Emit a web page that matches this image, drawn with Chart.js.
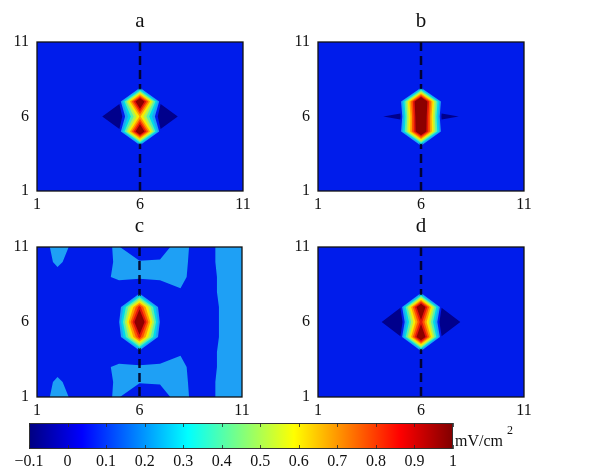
<!DOCTYPE html>
<html><head><meta charset="utf-8">
<script src="https://cdn.jsdelivr.net/npm/chart.js@4/dist/chart.umd.min.js"></script>
<style>
html,body{margin:0;padding:0;background:#fff;width:608px;height:472px;overflow:hidden;}
canvas{position:absolute;}
</style></head><body>
<canvas id="pa" width="280" height="215" style="left:0px;top:0px"></canvas>
<canvas id="pb" width="300" height="215" style="left:280px;top:0px"></canvas>
<canvas id="pc" width="280" height="205" style="left:0px;top:215px"></canvas>
<canvas id="pd" width="300" height="205" style="left:280px;top:215px"></canvas>
<canvas id="cb" width="608" height="67" style="left:0px;top:405px"></canvas>
<script>
// ---------------- data ----------------
const xCoords = [1,2,3,4,5,6,7,8,9,10,11];
const yCoords = [11,10,9,8,7,6,5,4,3,2,1];   // grid rows, top to bottom
const axisTicks = [1,6,11];
const panelTitles = ['a','b','c','d'];
const markerX = 6;                            // dashed vertical line
const contourLevels = [0,0.1,0.2,0.3,0.4,0.5,0.6,0.7,0.8,0.9];
const cbTicks = [-0.1,0,0.1,0.2,0.3,0.4,0.5,0.6,0.7,0.8,0.9,1];
const cbTickLabels = ['\u22120.1','0','0.1','0.2','0.3','0.4','0.5','0.6','0.7','0.8','0.9','1'];
const cbUnit = 'mV/cm';
const cbUnitExp = '2';

const gridA = [
 [0.02,0.02,0.02,0.02,0.02,0.02,0.02,0.02,0.02,0.02,0.02],
 [0.02,0.02,0.02,0.02,0.02,0.02,0.02,0.02,0.02,0.02,0.02],
 [0.02,0.02,0.02,0.02,0.02,0.02,0.02,0.02,0.02,0.02,0.02],
 [0.02,0.02,0.02,0.02,0.02,0.02,0.02,0.02,0.02,0.02,0.02],
 [0.02,0.02,0.02,0.02,0.02,1.15,0.02,0.02,0.02,0.02,0.02],
 [0.02,0.02,0.02,0.02,-0.10,0.62,-0.10,0.02,0.02,0.02,0.02],
 [0.02,0.02,0.02,0.02,0.02,1.15,0.02,0.02,0.02,0.02,0.02],
 [0.02,0.02,0.02,0.02,0.02,0.02,0.02,0.02,0.02,0.02,0.02],
 [0.02,0.02,0.02,0.02,0.02,0.02,0.02,0.02,0.02,0.02,0.02],
 [0.02,0.02,0.02,0.02,0.02,0.02,0.02,0.02,0.02,0.02,0.02],
 [0.02,0.02,0.02,0.02,0.02,0.02,0.02,0.02,0.02,0.02,0.02]
];
const gridB = [
 [0.02,0.02,0.02,0.02,0.02,0.02,0.02,0.02,0.02,0.02,0.02],
 [0.02,0.02,0.02,0.02,0.02,0.02,0.02,0.02,0.02,0.02,0.02],
 [0.02,0.02,0.02,0.02,0.02,0.02,0.02,0.02,0.02,0.02,0.02],
 [0.02,0.02,0.02,0.02,0.02,0.02,0.02,0.02,0.02,0.02,0.02],
 [0.02,0.02,0.02,0.02,0.06,1.28,0.06,0.02,0.02,0.02,0.02],
 [0.02,0.02,0.02,0.003,-0.015,1.25,-0.015,0.003,0.02,0.02,0.02],
 [0.02,0.02,0.02,0.02,0.06,1.20,0.06,0.02,0.02,0.02,0.02],
 [0.02,0.02,0.02,0.02,0.02,0.05,0.02,0.02,0.02,0.02,0.02],
 [0.02,0.02,0.02,0.02,0.02,0.02,0.02,0.02,0.02,0.02,0.02],
 [0.02,0.02,0.02,0.02,0.02,0.02,0.02,0.02,0.02,0.02,0.02],
 [0.02,0.02,0.02,0.02,0.02,0.02,0.02,0.02,0.02,0.02,0.02]
];
const gridC = [
 [0.00,0.16,0.05,0.09,0.105,0.00,0.05,0.15,0.03,0.13,0.14],
 [0.03,0.12,0.04,0.05,0.12,0.11,0.11,0.14,0.03,0.13,0.14],
 [0.03,0.06,0.03,0.07,0.12,0.11,0.12,0.13,0.03,0.12,0.14],
 [0.03,0.03,0.03,0.03,0.03,0.02,0.03,0.09,0.03,0.12,0.14],
 [0.03,0.03,0.03,0.03,0.02,0.85,0.02,0.03,0.03,0.11,0.14],
 [0.03,0.03,0.03,0.03,0.09,1.17,0.09,0.03,0.03,0.11,0.14],
 [0.03,0.03,0.03,0.03,0.02,0.85,0.02,0.03,0.03,0.11,0.14],
 [0.03,0.03,0.03,0.03,0.03,0.02,0.03,0.09,0.03,0.12,0.14],
 [0.03,0.06,0.03,0.07,0.12,0.11,0.12,0.13,0.03,0.12,0.14],
 [0.03,0.12,0.04,0.05,0.12,0.11,0.11,0.14,0.03,0.13,0.14],
 [0.00,0.16,0.05,0.09,0.105,0.00,0.05,0.15,0.03,0.13,0.14]
];
const gridD = [
 [0.02,0.02,0.02,0.02,0.02,0.02,0.02,0.02,0.02,0.02,0.02],
 [0.02,0.02,0.02,0.02,0.02,0.02,0.02,0.02,0.02,0.02,0.02],
 [0.02,0.02,0.02,0.02,0.02,0.02,0.02,0.02,0.02,0.02,0.02],
 [0.02,0.02,0.02,0.02,0.02,0.02,0.02,0.02,0.02,0.02,0.02],
 [0.02,0.02,0.02,0.02,0.005,1.15,0.005,0.02,0.02,0.02,0.02],
 [0.02,0.02,0.02,0.01,-0.10,0.86,-0.10,0.01,0.02,0.02,0.02],
 [0.02,0.02,0.02,0.02,0.005,1.15,0.005,0.02,0.02,0.02,0.02],
 [0.02,0.02,0.02,0.02,0.02,0.02,0.02,0.02,0.02,0.02,0.02],
 [0.02,0.02,0.02,0.02,0.02,0.02,0.02,0.02,0.02,0.02,0.02],
 [0.02,0.02,0.02,0.02,0.02,0.02,0.02,0.02,0.02,0.02,0.02],
 [0.02,0.02,0.02,0.02,0.02,0.02,0.02,0.02,0.02,0.02,0.02]
];

// ---------------- styles ----------------
const SERIF = '"Liberation Serif", "Times New Roman", serif';
const baseColor = 'rgb(0,0,140)';
const bandColors = ['rgb(0,28,235)','rgb(30,160,245)','rgb(0,215,235)','rgb(90,240,170)','rgb(175,245,80)',
  'rgb(250,235,0)','rgb(255,160,0)','rgb(255,80,0)','rgb(225,20,10)','rgb(140,0,0)'];
const jetStops = [[0,'#000080'],[0.125,'#0000ff'],[0.375,'#00ffff'],[0.625,'#ffff00'],[0.875,'#ff0000'],[1,'#800000']];

const contourPlugin = {
  id: 'contour',
  beforeDatasetsDraw(chart, args, opts) {
    const g = opts.grid; if (!g) return;
    const ctx = chart.ctx, a = chart.chartArea, xs = chart.scales.x, ys = chart.scales.y;
    const px = c => xs.getPixelForValue(xCoords[c]);
    const py = r => ys.getPixelForValue(yCoords[r]);
    ctx.save();
    ctx.beginPath(); ctx.rect(a.left, a.top, a.right - a.left, a.bottom - a.top); ctx.clip();
    ctx.fillStyle = baseColor;
    ctx.fillRect(a.left, a.top, a.right - a.left, a.bottom - a.top);
    const drawDash = () => {
      ctx.save();
      ctx.setLineDash([9,5]);
      ctx.lineWidth = 2.5;
      ctx.strokeStyle = 'rgba(0,0,35,0.92)';
      ctx.beginPath();
      const lx = xs.getPixelForValue(markerX);
      ctx.moveTo(lx, ys.getPixelForValue(yCoords[0]));
      ctx.lineTo(lx, ys.getPixelForValue(yCoords[yCoords.length - 1]));
      ctx.stroke();
      ctx.restore();
    };
    contourLevels.forEach((L, k) => {
      if (k === 2) drawDash();
      ctx.beginPath();
      for (let r = 0; r < yCoords.length - 1; r++) {
        for (let c = 0; c < xCoords.length - 1; c++) {
          const P = [[c, r], [c + 1, r], [c + 1, r + 1], [c, r + 1]];
          const pts = [];
          for (let i = 0; i < 4; i++) {
            const [c1, r1] = P[i], [c2, r2] = P[(i + 1) % 4];
            const v1 = g[r1][c1], v2 = g[r2][c2];
            const x1 = px(c1), y1 = py(r1), x2 = px(c2), y2 = py(r2);
            if (v1 >= L) pts.push([x1, y1]);
            if ((v1 >= L) !== (v2 >= L)) {
              const t = (L - v1) / (v2 - v1);
              pts.push([x1 + t * (x2 - x1), y1 + t * (y2 - y1)]);
            }
          }
          if (pts.length >= 3) {
            ctx.moveTo(pts[0][0], pts[0][1]);
            for (let i = 1; i < pts.length; i++) ctx.lineTo(pts[i][0], pts[i][1]);
            ctx.closePath();
          }
        }
      }
      ctx.fillStyle = bandColors[k];
      ctx.fill('nonzero');
    });
    ctx.restore();
  },
  afterDraw(chart, args, opts) {
    if (!opts.grid) return;
    const ctx = chart.ctx, a = chart.chartArea;
    ctx.save();
    ctx.strokeStyle = '#111';
    ctx.lineWidth = 1.3;
    ctx.strokeRect(a.left, a.top, a.right - a.left, a.bottom - a.top);
    ctx.fillStyle = '#111';
    ctx.font = '21px ' + SERIF;
    ctx.textAlign = 'center';
    ctx.textBaseline = 'alphabetic';
    ctx.fillText(opts.title, (a.left + a.right) / 2, a.top - 15);
    ctx.restore();
  }
};

function makePanel(id, grid, title, lay) {
  new Chart(document.getElementById(id), {
    type: 'scatter',
    data: { datasets: [] },
    options: {
      responsive: false, animation: false, devicePixelRatio: 1,
      layout: { padding: { top: lay.top, right: lay.right, left: 0, bottom: 0 } },
      plugins: { legend: { display: false }, tooltip: { enabled: false }, contour: { grid: grid, title: title } },
      scales: {
        x: {
          type: 'linear', min: 1, max: 11, position: 'bottom',
          afterBuildTicks: s => { s.ticks = axisTicks.map(v => ({ value: v })); },
          afterFit: s => { s.height = lay.xh; },
          grid: { display: false, drawTicks: false }, border: { display: false },
          ticks: { font: { family: SERIF, size: 16 }, color: '#111', padding: 4, maxRotation: 0, autoSkip: false }
        },
        y: {
          type: 'linear', min: 1, max: 11, position: 'left',
          afterBuildTicks: s => { s.ticks = axisTicks.map(v => ({ value: v })); },
          afterFit: s => { s.width = lay.yw; },
          grid: { display: false, drawTicks: false }, border: { display: false },
          ticks: { font: { family: SERIF, size: 16 }, color: '#111', padding: 8, autoSkip: false }
        }
      }
    },
    plugins: [contourPlugin]
  });
}

makePanel('pa', gridA, panelTitles[0], { top: 42, right: 37, yw: 37, xh: 24 });
makePanel('pb', gridB, panelTitles[1], { top: 42, right: 56, yw: 38, xh: 24 });
makePanel('pc', gridC, panelTitles[2], { top: 32, right: 38, yw: 37, xh: 23 });
makePanel('pd', gridD, panelTitles[3], { top: 32, right: 56, yw: 38, xh: 23 });

// ---------------- colorbar ----------------
const colorbarPlugin = {
  id: 'colorbar',
  beforeDatasetsDraw(chart) {
    const ctx = chart.ctx, a = chart.chartArea, xs = chart.scales.x;
    const x0 = xs.getPixelForValue(cbTicks[0]), x1 = xs.getPixelForValue(cbTicks[cbTicks.length - 1]);
    const grad = ctx.createLinearGradient(x0, 0, x1, 0);
    jetStops.forEach(s => grad.addColorStop(s[0], s[1]));
    ctx.save();
    ctx.fillStyle = grad;
    ctx.fillRect(x0, a.top, x1 - x0, a.bottom - a.top);
    ctx.strokeStyle = '#333';
    ctx.lineWidth = 1;
    ctx.strokeRect(x0 + 0.5, a.top + 0.5, x1 - x0 - 1, a.bottom - a.top - 1);
    ctx.beginPath();
    cbTicks.forEach(v => {
      const tx = Math.round(xs.getPixelForValue(v)) + 0.5;
      ctx.moveTo(tx, a.top); ctx.lineTo(tx, a.top + 4);
      ctx.moveTo(tx, a.bottom); ctx.lineTo(tx, a.bottom - 4);
    });
    ctx.strokeStyle = 'rgba(40,40,40,0.8)';
    ctx.stroke();
    ctx.fillStyle = '#111';
    ctx.font = '16px ' + SERIF;
    ctx.textAlign = 'left';
    ctx.textBaseline = 'alphabetic';
    ctx.fillText(cbUnit, a.right + 2, a.bottom - 3);
    const w = ctx.measureText(cbUnit + ' ').width;
    ctx.font = '12px ' + SERIF;
    ctx.fillText(cbUnitExp, a.right + 2 + w, a.top + 11);
    ctx.restore();
  }
};

new Chart(document.getElementById('cb'), {
  type: 'scatter',
  data: { datasets: [] },
  options: {
    responsive: false, animation: false, devicePixelRatio: 1,
    layout: { padding: { top: 18, right: 155, left: 29, bottom: 0 } },
    plugins: { legend: { display: false }, tooltip: { enabled: false } },
    scales: {
      x: {
        type: 'linear', min: cbTicks[0], max: cbTicks[cbTicks.length - 1], position: 'bottom',
        afterBuildTicks: s => { s.ticks = cbTicks.map(v => ({ value: v })); },
        afterFit: s => { s.height = 23; },
        grid: { display: false, drawTicks: false }, border: { display: false },
        ticks: { font: { family: SERIF, size: 16 }, color: '#111', padding: 3, maxRotation: 0, autoSkip: false,
          callback: (v, i) => cbTickLabels[i] }
      },
      y: { display: false, min: 0, max: 1 }
    }
  },
  plugins: [colorbarPlugin]
});
</script>
</body></html>
